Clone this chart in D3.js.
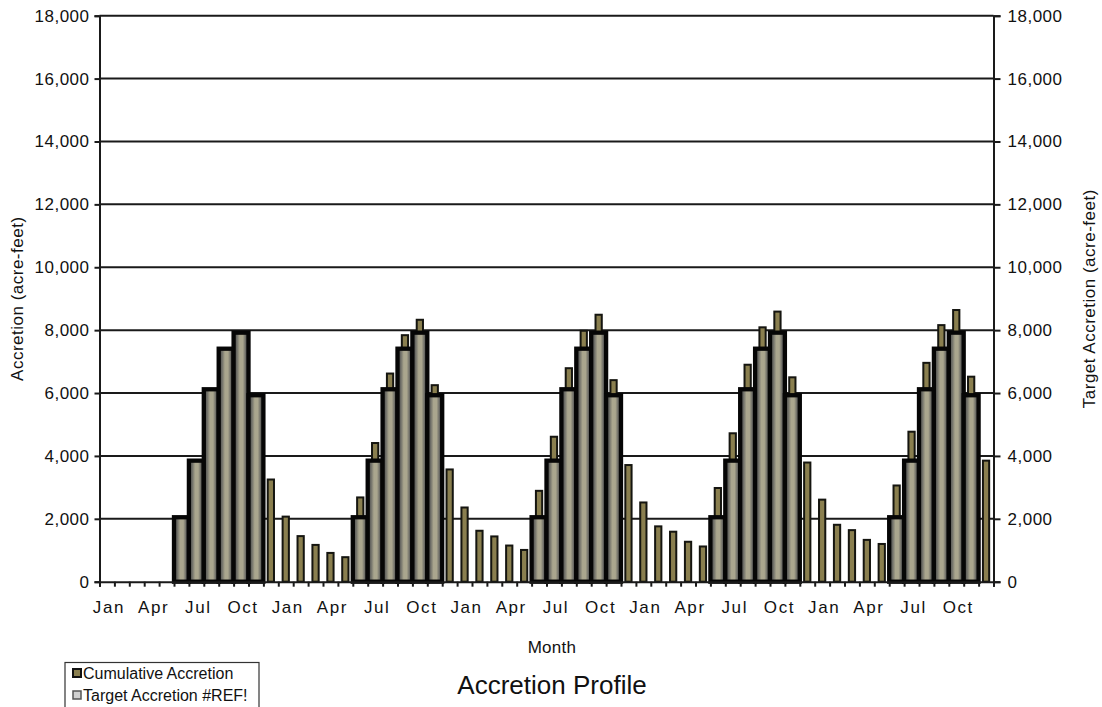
<!DOCTYPE html>
<html>
<head>
<meta charset="utf-8">
<script src="https://cdn.jsdelivr.net/npm/d3@7"></script>
<style>
  html, body { margin: 0; padding: 0; background: #ffffff; }
  svg { display: block; font-family: "Liberation Sans", Arial, sans-serif; }
</style>
</head>
<body>
<svg id="chart" width="1102" height="707"></svg>
<script>
// ---------------- DATA ----------------
const monthNames = ["Jan","Feb","Mar","Apr","May","Jun","Jul","Aug","Sep","Oct","Nov","Dec"];
const years = [1, 2, 3, 4, 5];
const shownMonthLabels = ["Jan", "Apr", "Jul", "Oct"];

// Cumulative Accretion (acre-feet), 60 months
const cumulativeAccretion = [
  0, 0, 0, 0, 0, 2050, 3850, 6120, 7410, 7920, 5930, 3250,
  2070, 1450, 1170, 915, 780, 2680, 4410, 6620, 7840, 8330, 6250, 3570,
  2360, 1620, 1440, 1150, 1010, 2890, 4610, 6790, 7980, 8490, 6410, 3710,
  2520, 1760, 1590, 1270, 1120, 2980, 4720, 6900, 8090, 8590, 6500, 3790,
  2610, 1810, 1640, 1330, 1200, 3060, 4770, 6960, 8160, 8640, 6520, 3850
];

// Target Accretion (acre-feet), 60 months (null = no target)
const targetAccretion = [
  null, null, null, null, null, 2050, 3850, 6120, 7410, 7920, 5930, null,
  null, null, null, null, null, 2050, 3850, 6120, 7410, 7920, 5930, null,
  null, null, null, null, null, 2050, 3850, 6120, 7410, 7920, 5930, null,
  null, null, null, null, null, 2050, 3850, 6120, 7410, 7920, 5930, null,
  null, null, null, null, null, 2050, 3850, 6120, 7410, 7920, 5930, null
];

const yTicks = [0, 2000, 4000, 6000, 8000, 10000, 12000, 14000, 16000, 18000];

const seriesNames = ["Cumulative Accretion", "Target Accretion #REF!"];
const chartTitle = "Accretion Profile";
const xTitle = "Month";
const yTitleLeft = "Accretion (acre-feet)";
const yTitleRight = "Target Accretion (acre-feet)";

// ---------------- LAYOUT ----------------
const svg = d3.select("#chart");
const plotLeft = 99.5, plotRight = 993.5, plotTop = 15.7, plotBottom = 581.7;

const categories = years.flatMap(y => monthNames.map(m => ({ year: y, month: m })));
const idx = d3.range(categories.length);

const x = d3.scaleBand().domain(idx).range([plotLeft, plotRight]).padding(0);
const xEdges = d3.scaleLinear().domain([0, categories.length]).range([plotLeft, plotRight]);
const y = d3.scaleLinear().domain([0, 18000]).range([plotBottom, plotTop]);
const yRight = d3.scaleLinear().domain([0, 18000]).range([plotBottom, plotTop]);

// gradient for target bars
const defs = svg.append("defs");
const grad = defs.append("linearGradient").attr("id", "tgtGrad")
  .attr("x1", "0%").attr("x2", "100%").attr("y1", "0%").attr("y2", "0%");
[[0, "#4a4a48"], [0.22, "#6c6c66"], [0.42, "#aaa68e"], [0.62, "#aaa68e"], [0.82, "#666662"], [1, "#4a4a48"]]
  .forEach(([o, c]) => grad.append("stop").attr("offset", o).attr("stop-color", c));

// gridlines
svg.append("g").selectAll("line").data(yTicks.filter(t => t > 0)).join("line")
  .attr("x1", plotLeft).attr("x2", plotRight)
  .attr("y1", d => y(d)).attr("y2", d => y(d))
  .attr("stroke", "#1a1a1a").attr("stroke-width", 2);

// cumulative bars (behind)
const cw = x.bandwidth() * 0.42;
svg.append("g").selectAll("rect").data(idx.filter(i => cumulativeAccretion[i] > 0)).join("rect")
  .attr("x", i => x(i) + (x.bandwidth() - cw) / 2)
  .attr("width", cw)
  .attr("y", i => y(cumulativeAccretion[i]))
  .attr("height", i => y(0) - y(cumulativeAccretion[i]))
  .attr("fill", "#8a7f4f")
  .attr("stroke", "#151510").attr("stroke-width", 2);

// target bars (front)
svg.append("g").selectAll("rect").data(idx.filter(i => targetAccretion[i] != null)).join("rect")
  .attr("x", i => x(i))
  .attr("width", x.bandwidth())
  .attr("y", i => y(targetAccretion[i]))
  .attr("height", i => y(0) - y(targetAccretion[i]))
  .attr("fill", "url(#tgtGrad)")
  .attr("stroke", "#060606").attr("stroke-width", 4.3);

// left axis
const axL = svg.append("g").attr("transform", `translate(${plotLeft},0)`)
  .call(d3.axisLeft(y).tickValues(yTicks).tickSize(5).tickPadding(5).tickFormat(d3.format(",")));
// right axis
const axR = svg.append("g").attr("transform", `translate(${plotRight},0)`)
  .call(d3.axisRight(yRight).tickValues(yTicks).tickSize(7).tickPadding(7).tickFormat(d3.format(",")));
// bottom axis: ticks at month boundaries
const axB = svg.append("g").attr("transform", `translate(0,${plotBottom})`)
  .call(d3.axisBottom(xEdges).tickValues(d3.range(categories.length + 1)).tickSize(5).tickFormat(""));
// bottom labels
const axBL = svg.append("g").attr("transform", `translate(0,${plotBottom})`)
  .call(d3.axisBottom(x).tickSize(0)
    .tickFormat(i => shownMonthLabels.includes(categories[i].month) ? categories[i].month : ""));
axBL.select(".domain").remove();

[axL, axR, axB].forEach(g => {
  g.select(".domain").attr("stroke", "#1a1a1a").attr("stroke-width", 2);
  g.selectAll(".tick line").attr("stroke", "#1a1a1a").attr("stroke-width", 2);
});
[axL, axR, axBL].forEach(g => {
  g.selectAll("text").attr("font-size", 17).attr("fill", "#111")
    .attr("font-family", "'Liberation Sans', Arial, sans-serif");
});
axL.selectAll("text").attr("letter-spacing", 0.5);
axR.selectAll("text").attr("letter-spacing", 0.5);
axBL.selectAll("text").attr("y", 31.5).attr("dy", 0).attr("dx", 2).attr("letter-spacing", 1.6);

// axis titles
svg.append("text").attr("x", 552).attr("y", 653).attr("text-anchor", "middle")
  .attr("font-size", 17).attr("fill", "#111").attr("letter-spacing", 0.3).text(xTitle);
svg.append("text").attr("transform", `translate(23,${(plotTop + plotBottom) / 2}) rotate(-90)`)
  .attr("text-anchor", "middle").attr("font-size", 17).attr("fill", "#111")
  .attr("letter-spacing", 0.5).text(yTitleLeft);
svg.append("text").attr("transform", `translate(1095,${(plotTop + plotBottom) / 2}) rotate(-90)`)
  .attr("text-anchor", "middle").attr("font-size", 17).attr("fill", "#111")
  .attr("letter-spacing", 0.5).text(yTitleRight);

// chart title
svg.append("text").attr("x", 552).attr("y", 694).attr("text-anchor", "middle")
  .attr("font-size", 26).attr("fill", "#111").text(chartTitle);

// legend
const lg = svg.append("g");
lg.append("rect").attr("x", 65).attr("y", 662.5).attr("width", 194).attr("height", 60)
  .attr("fill", "#fff").attr("stroke", "#333").attr("stroke-width", 1.2);
const legendStyles = [
  { fill: "#8a7f4f", stroke: "#111", sw: 2 },
  { fill: "#d0d0d0", stroke: "#555", sw: 1.5 }
];
seriesNames.forEach((name, i) => {
  const cy = 673 + i * 22;
  lg.append("rect").attr("x", 73).attr("y", cy - 4).attr("width", 8).attr("height", 8)
    .attr("fill", legendStyles[i].fill).attr("stroke", legendStyles[i].stroke)
    .attr("stroke-width", legendStyles[i].sw);
  lg.append("text").attr("x", 83).attr("y", cy + 5.5).attr("font-size", 16)
    .attr("fill", "#111").text(name);
});
</script>
</body>
</html>
